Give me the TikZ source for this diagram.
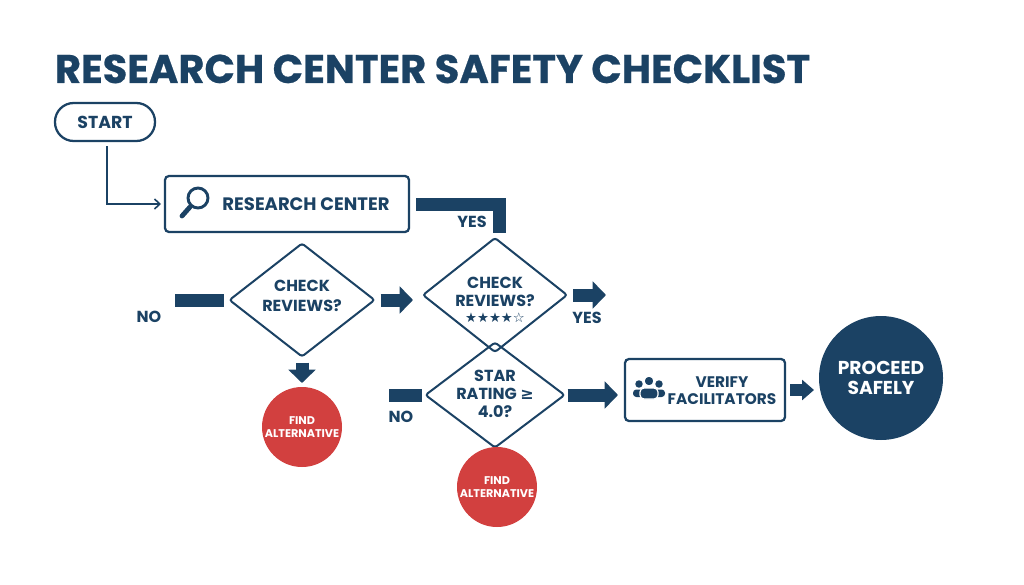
\documentclass[tikz,border=0pt]{standalone}
\usepackage{fontspec}
\setmainfont{Poppins}
\newfontfamily\titlefont{Poppins}[BoldFeatures={FakeBold=0.6}]
\newfontfamily\symfont{DejaVu Sans}
\usetikzlibrary{shapes.geometric,arrows.meta,calc}
\definecolor{navy}{HTML}{1B4264}
\definecolor{alertred}{HTML}{D2403F}
\tikzset{
  every node/.style={inner sep=0pt, outer sep=0pt},
  lbl/.style={text=navy, align=center},
  boxnode/.style={draw=navy, line width=1.7pt, rounded corners=3pt},
  dia/.style={diamond, draw=navy, line width=1.5pt, rounded corners=2pt},
  redcirc/.style={circle, fill=alertred, text=white, align=center, minimum size=60pt,
    font=\fontsize{8.4}{9.6}\selectfont\bfseries},
  bar/.style={draw=navy, line width=9.75pt, line cap=butt, line join=miter},
  barrow/.style={bar, -{Triangle[length=10pt,width=20pt]}},
  smallarrow/.style={draw=navy, line width=8.5pt, -{Triangle[length=9pt,width=15pt]}},
  conn/.style={draw=navy, line width=1.2pt, -{Straight Barb[length=4pt,width=7.5pt]}},
  dfont/.style={font=\fontsize{12}{15}\selectfont\bfseries},
}
\begin{document}
\begin{tikzpicture}[x=0.75pt,y=-0.75pt]
\useasboundingbox[fill=white] (0,0) rectangle (1024,585);

% title
\node[anchor=base west, text=navy, font=\titlefont\fontsize{30}{36}\selectfont\bfseries] (title) at (55,83) {RESEARCH CENTER SAFETY CHECKLIST};

% start
\node[boxnode, rounded corners=14pt, minimum width=75pt, minimum height=28.5pt, text=navy,
  font=\fontsize{13}{15}\selectfont\bfseries] (start) at (105,122) {START};

% research center box
\node[boxnode, minimum width=183pt, minimum height=42pt] (rc) at (287,204) {};
\node[lbl, font=\fontsize{13.5}{15}\selectfont\bfseries] (rctext) at (306,204) {RESEARCH CENTER};
\draw[navy, line width=2.2pt] (198,198) circle[radius=7.5pt];
\draw[navy, line width=3.6pt, line cap=round] (190,207) -- (182,216);

% diamond 1
\node[dia, minimum width=108.75pt, minimum height=84.75pt] (d1) at (302,300) {};
\node[lbl, dfont] (d1t) at (302,296) {CHECK\\REVIEWS?};

% diamond 2
\node[dia, minimum width=108pt, minimum height=85.5pt] (d2) at (495,295) {};
\node[lbl, font=\fontsize{12}{13}\selectfont\bfseries] (d2t) at (495,292) {CHECK\\REVIEWS?};
\node[lbl, font=\symfont\fontsize{10}{11}\selectfont] (d2s) at (495,318) {★★★★☆};

% diamond 3
\node[dia, minimum width=104.25pt, minimum height=78.75pt] (d3) at (495,395) {};
\node[lbl, font=\fontsize{12}{13.5}\selectfont\bfseries] (d3t) at (495,394) {STAR\\RATING {\symfont\bfseries ≥}\\4.0?};

% find alternative circles
\node[redcirc] (fa1) at (302,427) {FIND\\ALTERNATIVE};
\node[redcirc] (fa2) at (497,487) {FIND\\ALTERNATIVE};

% verify facilitators
\node[boxnode, minimum width=120pt, minimum height=46.5pt] (ver) at (705,390) {};
\node[lbl, font=\fontsize{11.5}{12.75}\selectfont\bfseries] (vert) at (722,391) {VERIFY\\FACILITATORS};
% people icon
\fill[navy] (639,384) circle[radius=2.8pt];
\fill[navy] (659,384) circle[radius=2.8pt];
\fill[navy, rounded corners=2.5pt] (633,397) -- (633,389.5) -- (645,389.5) -- (645,397) -- cycle;
\fill[navy, rounded corners=2.5pt] (653,397) -- (653,389.5) -- (665,389.5) -- (665,397) -- cycle;
\draw[white, line width=0.9pt, fill=navy] (649,381) circle[radius=3.7pt];
\draw[white, line width=0.9pt, fill=navy, rounded corners=3pt] (640,399) -- (640,388) -- (658,388) -- (658,399) -- cycle;

% proceed safely
\node[circle, fill=navy, minimum size=93pt] (proc) at (881,378) {};
\node[text=white, align=center, font=\fontsize{14}{15}\selectfont\bfseries] (proct) at (881,378) {PROCEED\\SAFELY};

% labels
\node[lbl, font=\fontsize{12}{14}\selectfont\bfseries] (yes1) at (472,222) {YES};
\node[lbl, font=\fontsize{12}{14}\selectfont\bfseries] (yes2) at (587,318) {YES};
\node[lbl, font=\fontsize{12}{14}\selectfont\bfseries] (no1) at (149,317) {NO};
\node[lbl, font=\fontsize{12}{14}\selectfont\bfseries] (no2) at (401,417) {NO};

% free ends
\coordinate (nob1) at (175,300);
\coordinate (nob2) at (389,395);
\coordinate (yesend) at (606,295);

% connectors
\draw[conn] ($(start.south)+(2,5)$) |- ($(rc.west)+(-4,0)$);
\draw[bar] ($(rc.east)+(7,0)$) -| ($(d2.north)+(4,-5)$);
\draw[bar] ($(d1.west)+(-6,0)$) -- (nob1);
\draw[barrow] ($(d1.east)+(6,0)$) -- ($(d1.east -| d2.west)+(-10,0)$);
\draw[barrow] ($(d1.south)+(0,6)$) -- ($(fa1.north)+(0,-4)$);
\draw[barrow] ($(d2.east)+(6,0)$) -- (yesend);
\draw[bar] ($(d3.west)+(-4,0)$) -- (nob2);
\draw[barrow] ($(d3.east)+(3,0)$) -- ($(d3.east -| ver.west)+(-7,0)$);
\draw[smallarrow] ($(ver.east)+(5,0)$) -- ($(ver.east -| proc.west)+(-5,0)$);
\end{tikzpicture}
\end{document}
